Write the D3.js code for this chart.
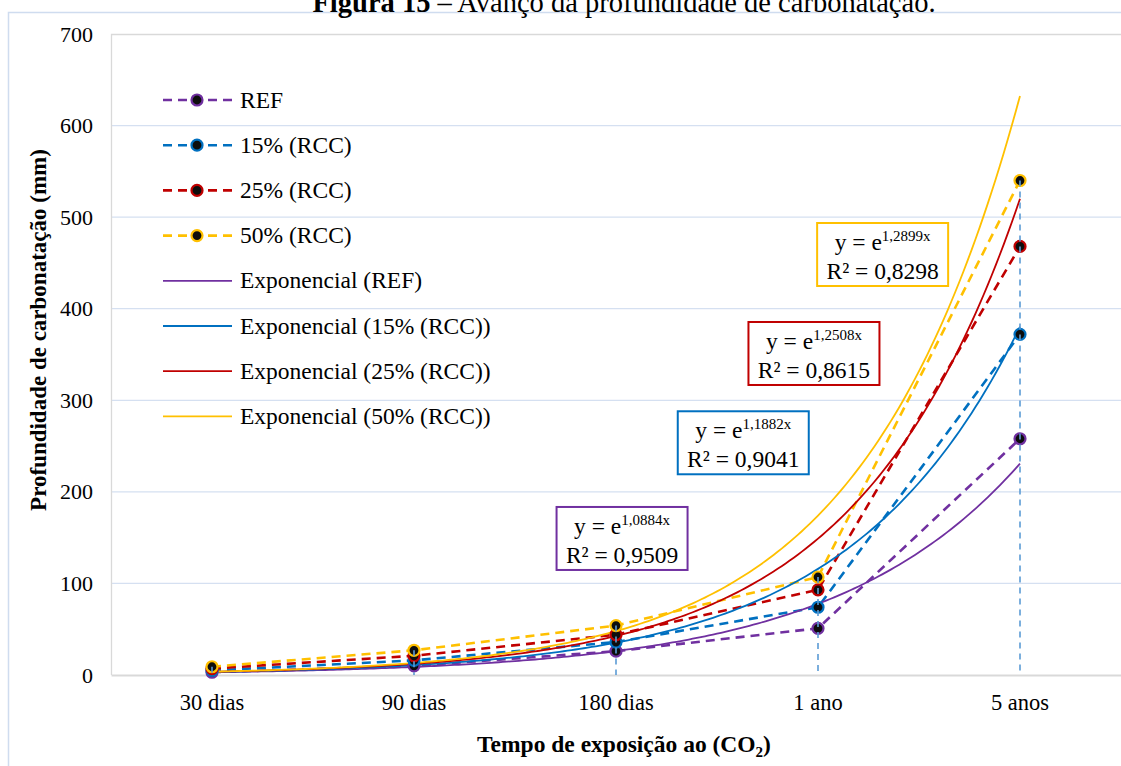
<!DOCTYPE html>
<html>
<head>
<meta charset="utf-8">
<script src="https://cdn.jsdelivr.net/npm/d3@7/dist/d3.min.js"></script>
<style>
  html, body { margin: 0; padding: 0; background: #fff; }
  svg { display: block; font-family: "Liberation Serif", "Times New Roman", serif; }
</style>
</head>
<body>
<svg id="chart" width="1121" height="766"></svg>
<script>
// ---------- data ----------
const categories = ["30 dias", "90 dias", "180 dias", "1 ano", "5 anos"];
const refValues   = [3, 10, 26, 51, 258];
const rcc15Values = [5, 16, 36, 74, 372];
const rcc25Values = [7, 21, 44, 93, 468];
const rcc50Values = [9, 27, 54, 107, 540];
const seriesNames = ["REF", "15% (RCC)", "25% (RCC)", "50% (RCC)"];
const trendCoefs  = [1.0884, 1.1882, 1.2508, 1.2899];
const trendR2     = ["0,9509", "0,9041", "0,8615", "0,8298"];
const trendExpLabels = ["1,0884x", "1,1882x", "1,2508x", "1,2899x"];
const yTicks = [0, 100, 200, 300, 400, 500, 600, 700];
// annotation anchors in data coordinates (x index, y value of box top)
const annotX = [3.03, 3.63, 3.98, 4.32];
const annotY = [183.5, 288, 385.5, 493.6];

const colors = ["#7030a0", "#0070c0", "#c00000", "#ffc000"];
const allValues = [refValues, rcc15Values, rcc25Values, rcc50Values];

// ---------- layout ----------
const svg = d3.select("#chart");
const plot = { left: 111, right: 1121, top: 34, bottom: 675 };
const FS = 23.5;

const x = d3.scaleBand().domain(categories).range([plot.left, plot.right]);
const xc = c => x(c) + x.bandwidth() / 2;
const xLin = d3.scaleLinear().domain([1, 5]).range([xc(categories[0]), xc(categories[4])]);
const y = d3.scaleLinear().domain([0, 700]).range([plot.bottom, plot.top]);

// outer chart border
svg.append("rect").attr("x", 8.5).attr("y", 12.5).attr("width", 1130).attr("height", 770)
  .attr("fill", "none").attr("stroke", "#cfdcef").attr("stroke-width", 1.5);

// title (partly clipped at top)
const title = svg.append("text").attr("x", 624).attr("y", 12).attr("text-anchor", "middle")
  .attr("font-size", 28.5).attr("fill", "#000");
title.append("tspan").attr("font-weight", "bold").text("Figura 15");
title.append("tspan").text(" – Avanço da profundidade de carbonatação.");

// gridlines
svg.append("g").selectAll("line").data(yTicks.filter(t => t > 0 && t < 700)).join("line")
  .attr("x1", plot.left).attr("x2", plot.right)
  .attr("y1", d => y(d)).attr("y2", d => y(d))
  .attr("stroke", "#d5e0f1").attr("stroke-width", 1.3);

// plot area border (top & left)
svg.append("path")
  .attr("d", `M${plot.left + 0.5},${plot.bottom} V${y(700) + 0.5} H${plot.right}`)
  .attr("fill", "none").attr("stroke", "#d9d9d9").attr("stroke-width", 1.3);

// y axis
const yAxis = d3.axisLeft(y).tickValues(yTicks).tickSize(0).tickPadding(18);
const gy = svg.append("g").attr("transform", `translate(${plot.left},0)`).call(yAxis);
gy.select(".domain").remove();
gy.selectAll("text").attr("font-size", 22).attr("fill", "#000")
  .attr("font-family", "Liberation Serif, Times New Roman, serif");

// x axis
const xAxis = d3.axisBottom(x).tickSize(0).tickPadding(19);
const gx = svg.append("g").attr("transform", `translate(0,${plot.bottom})`).call(xAxis);
gx.select(".domain").attr("stroke", "#d9d9d9").attr("stroke-width", 2);
gx.selectAll("text").attr("font-size", 22.5).attr("fill", "#000")
  .attr("font-family", "Liberation Serif, Times New Roman, serif");

// axis titles
svg.append("text").attr("transform", `translate(46,${330}) rotate(-90)`)
  .attr("text-anchor", "middle").attr("font-weight", "bold").attr("font-size", 23)
  .text("Profundidade de carbonatação (mm)");
const xt = svg.append("text").attr("x", 624).attr("y", 752).attr("text-anchor", "middle")
  .attr("font-weight", "bold").attr("font-size", 23.5);
xt.append("tspan").text("Tempo de exposição ao (CO");
xt.append("tspan").attr("font-size", 15).attr("dy", 5).text("2");
xt.append("tspan").attr("dy", -5).text(")");

// ---------- series ----------
const lineGen = d3.line().x((d, i) => xc(categories[i])).y(d => y(d));
const trendGen = d3.line().x(d => xLin(d[0])).y(d => y(d[1]));
const trendXs = d3.range(1, 5.0001, 0.02);

// dashed data lines
allValues.forEach((vals, s) => {
  svg.append("path").datum(vals).attr("d", lineGen)
    .attr("fill", "none").attr("stroke", colors[s]).attr("stroke-width", 2.6)
    .attr("stroke-dasharray", "9,6");
});

// trendlines y = e^{kx}
trendCoefs.forEach((k, s) => {
  svg.append("path").datum(trendXs.map(t => [t, Math.exp(k * t)])).attr("d", trendGen)
    .attr("fill", "none").attr("stroke", colors[s]).attr("stroke-width", 1.8);
});

// markers
allValues.forEach((vals, s) => {
  svg.append("g").selectAll("circle").data(vals).join("circle")
    .attr("cx", (d, i) => xc(categories[i])).attr("cy", d => y(d)).attr("r", 5.5)
    .attr("fill", "#0d0d0d").attr("stroke", colors[s]).attr("stroke-width", 2.2);
});

// drop lines (from highest point to axis)
svg.append("g").selectAll("line").data(categories).join("line")
  .attr("x1", c => xc(c)).attr("x2", c => xc(c))
  .attr("y1", (c, i) => y(d3.max(allValues, v => v[i])))
  .attr("y2", plot.bottom)
  .attr("stroke", "#5b9bd5").attr("stroke-width", 1.6).attr("stroke-dasharray", "6,5");

// ---------- trendline labels ----------
const boxW = 131, boxH = 63;
trendCoefs.forEach((k, s) => {
  const cx = xLin(annotX[s]), top = y(annotY[s]);
  const g = svg.append("g");
  g.append("rect").attr("x", cx - boxW / 2).attr("y", top).attr("width", boxW).attr("height", boxH)
    .attr("fill", "#fff").attr("stroke", colors[s]).attr("stroke-width", 2);
  const t1 = g.append("text").attr("x", cx).attr("y", top + 27).attr("text-anchor", "middle")
    .attr("font-size", FS);
  t1.append("tspan").text("y = e");
  t1.append("tspan").attr("font-size", 15).attr("dy", -9).text(trendExpLabels[s]);
  g.append("text").attr("x", cx).attr("y", top + 56).attr("text-anchor", "middle")
    .attr("font-size", FS).text("R² = " + trendR2[s]);
});

// ---------- legend ----------
const legendItems = seriesNames.map((n, s) => ({ name: n, color: colors[s], dashed: true }))
  .concat(seriesNames.map((n, s) => ({ name: "Exponencial (" + n + ")", color: colors[s], dashed: false })));
const lg = svg.append("g");
legendItems.forEach((it, i) => {
  const cy = 100 + i * 45.2;
  const row = lg.append("g");
  if (it.dashed) {
    row.append("line").attr("x1", 163).attr("x2", 232).attr("y1", cy).attr("y2", cy)
      .attr("stroke", it.color).attr("stroke-width", 2.6).attr("stroke-dasharray", "9,6");
    row.append("circle").attr("cx", 197).attr("cy", cy).attr("r", 5.5)
      .attr("fill", "#0d0d0d").attr("stroke", it.color).attr("stroke-width", 2.2);
  } else {
    row.append("line").attr("x1", 163).attr("x2", 232).attr("y1", cy).attr("y2", cy)
      .attr("stroke", it.color).attr("stroke-width", 1.8);
  }
  row.append("text").attr("x", 240).attr("y", cy + 7.5).attr("font-size", FS).text(it.name);
});
</script>
</body>
</html>
